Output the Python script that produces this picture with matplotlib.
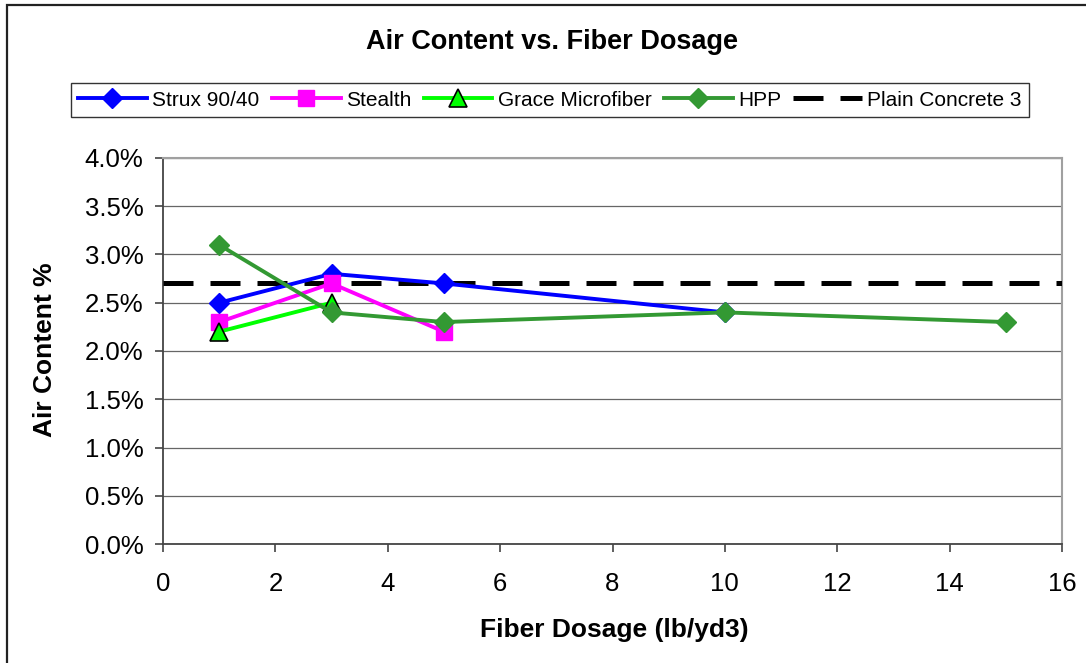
import matplotlib
matplotlib.use("Agg")
import matplotlib.pyplot as plt
from matplotlib.ticker import FuncFormatter, MultipleLocator
from matplotlib.patches import Rectangle

plt.rcParams['font.family'] = ['Liberation Sans', 'DejaVu Sans']

# Data
strux_x = [1, 3, 5, 10]
strux_y = [0.025, 0.028, 0.027, 0.024]
stealth_x = [1, 3, 5]
stealth_y = [0.023, 0.027, 0.022]
grace_x = [1, 3]
grace_y = [0.022, 0.025]
hpp_x = [1, 3, 5, 10, 15]
hpp_y = [0.031, 0.024, 0.023, 0.024, 0.023]
plain_value = 0.027
series_names = ["Strux 90/40", "Stealth", "Grace Microfiber", "HPP", "Plain Concrete 3"]

W, H = 1086, 663
fig = plt.figure(figsize=(W / 100, H / 100), dpi=100)
L, R, T, B = 163, 1062, 158, 544
ax = fig.add_axes([L / W, 1 - B / H, (R - L) / W, (B - T) / H])

lw = 2.8
ax.plot(strux_x, strux_y, color='#0000FF', lw=lw, marker='D', ms=10.5,
        mec='#0000FF', mfc='#0000FF', label=series_names[0], zorder=4)
ax.plot(stealth_x, stealth_y, color='#FF00FF', lw=lw, marker='s', ms=12,
        mec='#FF00FF', mfc='#FF00FF', label=series_names[1], zorder=4)
ax.plot(grace_x, grace_y, color='#00FF00', lw=lw, marker='^', ms=13,
        mec='black', mew=1.2, mfc='#00FF00', label=series_names[2], zorder=4)
ax.plot(hpp_x, hpp_y, color='#339933', lw=lw, marker='D', ms=10.5,
        mec='#339933', mfc='#339933', label=series_names[3], zorder=5)
ax.axhline(plain_value, color='black', lw=3.6, dashes=(6, 3.4),
           label=series_names[4], zorder=3)

ax.set_xlim(0, 16)
ax.set_ylim(0, 0.04)
ax.xaxis.set_major_locator(MultipleLocator(2))
ax.yaxis.set_major_locator(MultipleLocator(0.005))
ax.yaxis.set_major_formatter(FuncFormatter(lambda v, p: f"{v*100:.1f}%"))
ax.grid(axis='y', color='#666666', lw=0.9, zorder=0)
ax.set_axisbelow(True)

for s in ['top', 'right']:
    ax.spines[s].set_color('#A0A0A0')
    ax.spines[s].set_linewidth(1.5)
for s in ['left', 'bottom']:
    ax.spines[s].set_color('#444444')
    ax.spines[s].set_linewidth(1.3)

ax.tick_params(axis='both', direction='out', length=6, width=1.2, color='#444444',
               labelsize=18.5)
ax.tick_params(axis='y', pad=8)
ax.tick_params(axis='x', pad=14)

leg = ax.legend(loc='center', bbox_to_anchor=((68 + 1032) / 2 / W, 1 - 100 / H),
                bbox_transform=fig.transFigure, ncol=5, fontsize=15, frameon=True,
                fancybox=False, edgecolor='#333333', framealpha=1,
                handlelength=3.3, handletextpad=0.25, columnspacing=0.6,
                borderpad=0.35, borderaxespad=0)
leg.get_frame().set_linewidth(1.0)

fig.text(552 / W, 1 - 49 / H, "Air Content vs. Fiber Dosage", ha='center',
         va='baseline', fontsize=19.5, fontweight='bold')
fig.text(614 / W, 1 - 637 / H, "Fiber Dosage (lb/yd3)", ha='center',
         va='baseline', fontsize=19, fontweight='bold')
fig.text(45 / W, 1 - 350 / H, "Air Content %", ha='center', va='center',
         rotation=90, fontsize=19, fontweight='bold')

frame = Rectangle((7 / W, -0.1), 1.2, 1 - 5 / H + 0.1, transform=fig.transFigure,
                  fill=False, edgecolor='#222222', lw=1.6, zorder=10)
fig.patches.append(frame)

fig.savefig('out.png', dpi=100)
